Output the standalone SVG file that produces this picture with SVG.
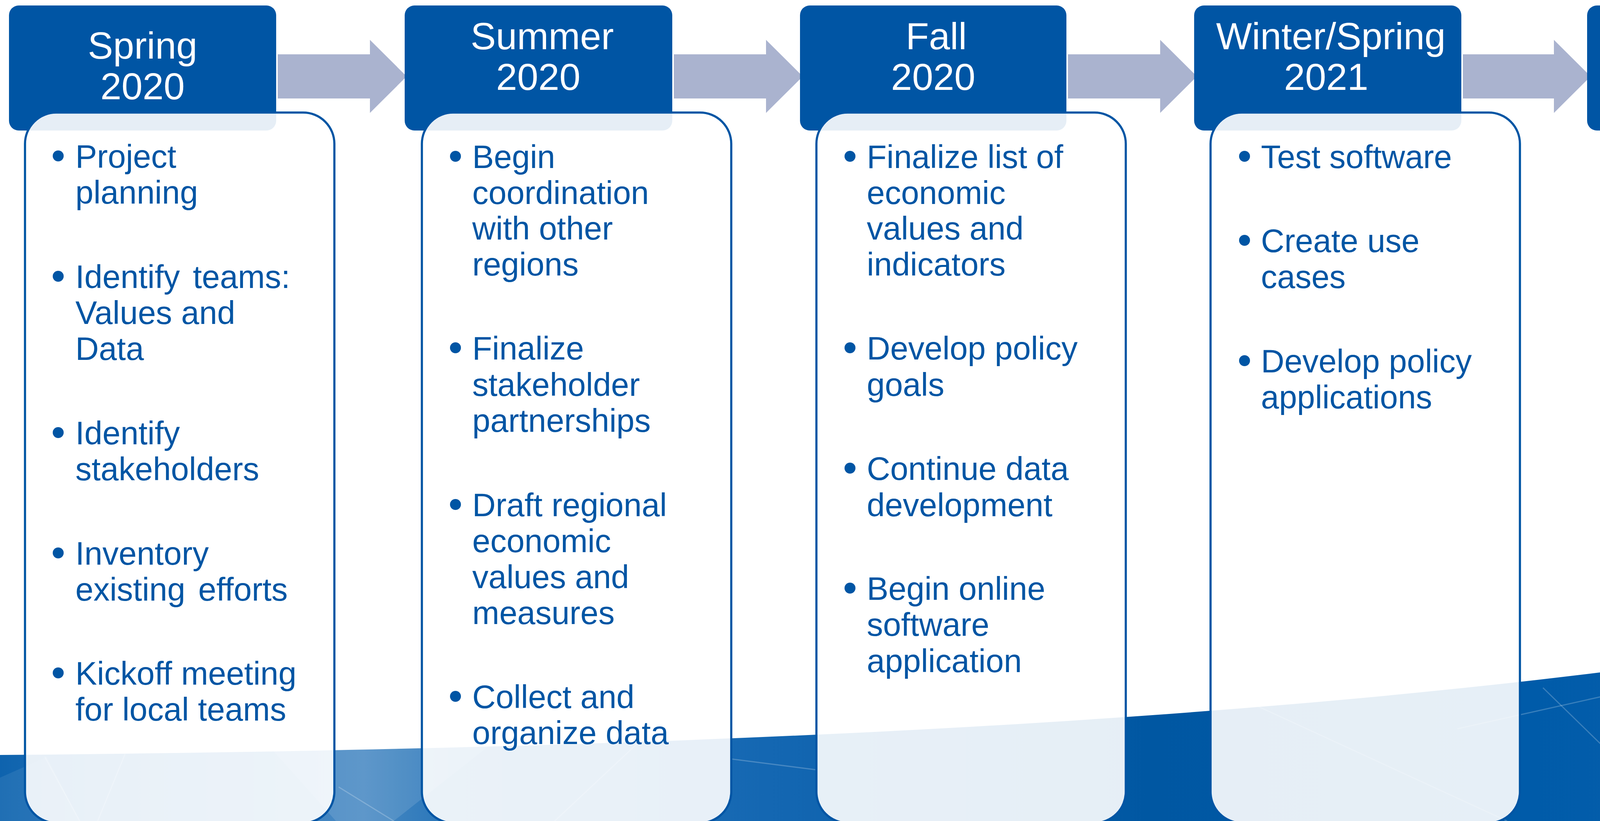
<svg xmlns="http://www.w3.org/2000/svg" width="4904" height="2101" viewBox="0 0 4904 2101">
<defs>
<linearGradient id="sea" x1="0" y1="0" x2="4904" y2="0" gradientUnits="userSpaceOnUse">
<stop offset="0" stop-color="#0E63AE"/>
<stop offset="0.08" stop-color="#2A77BB"/>
<stop offset="0.19" stop-color="#4889C3"/>
<stop offset="0.23" stop-color="#2C78BA"/>
<stop offset="0.4" stop-color="#1467B2"/>
<stop offset="0.6" stop-color="#0057A2"/>
<stop offset="0.8" stop-color="#005BA9"/>
<stop offset="1" stop-color="#0F64AF"/>
</linearGradient>
<style>
.hdr{fill:#0055A4}
.card{fill:#FFFFFF;fill-opacity:0.9;stroke:#0055A4;stroke-width:5.5}
.ht{font-family:"Liberation Sans",Arial,Helvetica,sans-serif;font-size:97px;fill:#FFFFFF;text-anchor:middle}
.bt{font-family:"Liberation Sans",Arial,Helvetica,sans-serif;font-size:83px;fill:#0055A4}
.bul{fill:#0055A4}
.arr{fill:#AAB3CF}
.facet{stroke:#FFFFFF;stroke-opacity:0.22;stroke-width:3;fill:none}
.logo{fill:#FFFFFF}
</style>
</defs>

<g id="background">
<rect x="0" y="0" width="4904" height="2101" fill="#FFFFFF"/>
<path d="M0,1932 C2000,1915 3600,1830 4904,1602 L4904,2101 L0,2101 Z" fill="url(#sea)"/>
<path d="M0,1990 L120,1937 L204,2101 L0,2101 Z" fill="#FFFFFF" fill-opacity="0.08"/>
<path d="M700,1922 L1250,1910 L1008,2101 L860,2101 Z" fill="#FFFFFF" fill-opacity="0.12"/>
<line class="facet" x1="115" y1="1937" x2="204" y2="2101"/>
<line class="facet" x1="320" y1="1930" x2="250" y2="2101"/>
<line class="facet" x1="867" y1="2014" x2="1008" y2="2101"/>
<line class="facet" x1="1640" y1="1895" x2="1420" y2="2101"/>
<line class="facet" x1="1870" y1="1942" x2="2090" y2="1970"/>
<line class="facet" x1="3219" y1="1807" x2="3858" y2="2101"/>
<line class="facet" x1="3731" y1="1865" x2="4904" y2="1603"/>
<line class="facet" x1="3950" y1="1760" x2="4300" y2="2101"/>
<path class="logo" d="M4463,1826 L4692,2101 L4672,2101 Z"/>
<path class="logo" d="M4616,1848 C4626,1858 4520,1960 4365,2101 L4398,2101 C4490,1990 4590,1905 4628,1880 C4632,1866 4626,1850 4616,1848 Z"/>
<path class="logo" d="M4598,1905 L4608,1910 L4582,2030 L4576,2026 Z"/>
<path class="logo" d="M4432,2050 Q4500,2112 4690,2082 Q4520,2094 4442,2040 Z"/>
</g>

<g id="connectors">
<path class="arr" d="M711,139 H947 V102 L1041,195.5 L947,289 V252 H711 Z"/>
<path class="arr" d="M1725,139 H1961 V102 L2055,195.5 L1961,289 V252 H1725 Z"/>
<path class="arr" d="M2734,139 H2970 V102 L3064,195.5 L2970,289 V252 H2734 Z"/>
<path class="arr" d="M3745,139 H3978 V102 L4072,195.5 L3978,289 V252 H3745 Z"/>
</g>

<g id="node-spring-2020">
<rect class="hdr" x="23" y="14" width="684" height="320" rx="25"/>
<text class="ht" x="365" y="150">Spring</text>
<text class="ht" x="365" y="254">2020</text>
<rect class="card" x="64" y="288" width="792" height="1818" rx="80"/>
<circle class="bul" cx="149" cy="399" r="14"/>
<text class="bt" x="193" y="429">Project</text>
<text class="bt" x="193" y="521">planning</text>
<circle class="bul" cx="149" cy="707" r="14"/>
<text class="bt" x="193" y="737" word-spacing="10">Identify teams:</text>
<text class="bt" x="193" y="829">Values and</text>
<text class="bt" x="193" y="921">Data</text>
<circle class="bul" cx="149" cy="1107" r="14"/>
<text class="bt" x="193" y="1137">Identify</text>
<text class="bt" x="193" y="1229">stakeholders</text>
<circle class="bul" cx="149" cy="1415" r="14"/>
<text class="bt" x="193" y="1445">Inventory</text>
<text class="bt" x="193" y="1537" word-spacing="10">existing efforts</text>
<circle class="bul" cx="149" cy="1722" r="14"/>
<text class="bt" x="193" y="1752">Kickoff meeting</text>
<text class="bt" x="193" y="1844">for local teams</text>
</g>

<g id="node-summer-2020">
<rect class="hdr" x="1036" y="14" width="685" height="320" rx="25"/>
<text class="ht" x="1388" y="126">Summer</text>
<text class="ht" x="1378" y="230">2020</text>
<rect class="card" x="1080" y="288" width="792" height="1818" rx="80"/>
<circle class="bul" cx="1166" cy="400" r="14"/>
<text class="bt" x="1209" y="430">Begin</text>
<text class="bt" x="1209" y="522">coordination</text>
<text class="bt" x="1209" y="613">with other</text>
<text class="bt" x="1209" y="705">regions</text>
<circle class="bul" cx="1166" cy="890" r="14"/>
<text class="bt" x="1209" y="920">Finalize</text>
<text class="bt" x="1209" y="1013">stakeholder</text>
<text class="bt" x="1209" y="1105">partnerships</text>
<circle class="bul" cx="1166" cy="1291" r="14"/>
<text class="bt" x="1209" y="1321">Draft regional</text>
<text class="bt" x="1209" y="1413">economic</text>
<text class="bt" x="1209" y="1505">values and</text>
<text class="bt" x="1209" y="1597">measures</text>
<circle class="bul" cx="1166" cy="1782" r="14"/>
<text class="bt" x="1209" y="1812">Collect and</text>
<text class="bt" x="1209" y="1904">organize data</text>
</g>

<g id="node-fall-2020">
<rect class="hdr" x="2048" y="14" width="682" height="320" rx="25"/>
<text class="ht" x="2397" y="126">Fall</text>
<text class="ht" x="2389" y="230">2020</text>
<rect class="card" x="2090" y="288" width="792" height="1818" rx="80"/>
<circle class="bul" cx="2176" cy="400" r="14"/>
<text class="bt" x="2219" y="430">Finalize list of</text>
<text class="bt" x="2219" y="522">economic</text>
<text class="bt" x="2219" y="613">values and</text>
<text class="bt" x="2219" y="705">indicators</text>
<circle class="bul" cx="2176" cy="890" r="14"/>
<text class="bt" x="2219" y="920">Develop policy</text>
<text class="bt" x="2219" y="1013">goals</text>
<circle class="bul" cx="2176" cy="1198" r="14"/>
<text class="bt" x="2219" y="1228">Continue data</text>
<text class="bt" x="2219" y="1321">development</text>
<circle class="bul" cx="2176" cy="1505" r="14"/>
<text class="bt" x="2219" y="1535">Begin online</text>
<text class="bt" x="2219" y="1627">software</text>
<text class="bt" x="2219" y="1720">application</text>
</g>

<g id="node-winter-spring-2021">
<rect class="hdr" x="3057" y="14" width="684" height="320" rx="25"/>
<text class="ht" x="3407" y="126">Winter/Spring</text>
<text class="ht" x="3395" y="230">2021</text>
<rect class="card" x="3099" y="288" width="792" height="1818" rx="80"/>
<circle class="bul" cx="3186" cy="400" r="14"/>
<text class="bt" x="3228" y="430">Test software</text>
<circle class="bul" cx="3186" cy="615" r="14"/>
<text class="bt" x="3228" y="645">Create use</text>
<text class="bt" x="3228" y="737">cases</text>
<circle class="bul" cx="3186" cy="923" r="14"/>
<text class="bt" x="3228" y="953">Develop policy</text>
<text class="bt" x="3228" y="1045">applications</text>
</g>

<g id="node-summer-fall-2021">
<rect class="hdr" x="4063" y="14" width="684" height="320" rx="25"/>
<text class="ht" x="4405" y="126">Summer/Fall</text>
<text class="ht" x="4400" y="230">2021</text>
<rect class="card" x="4108" y="288" width="792" height="1818" rx="80"/>
<circle class="bul" cx="4195" cy="399" r="14"/>
<text class="bt" x="4237" y="429">Policy</text>
<text class="bt" x="4237" y="521">explorations</text>
<circle class="bul" cx="4195" cy="707" r="14"/>
<text class="bt" x="4237" y="737">Policy</text>
<text class="bt" x="4237" y="829">implementation</text>
<circle class="bul" cx="4195" cy="1014" r="14"/>
<text class="bt" x="4237" y="1044">Present</text>
<text class="bt" x="4237" y="1136">findings to</text>
<text class="bt" x="4237" y="1228">regional</text>
<text class="bt" x="4237" y="1319">stakeholders</text>
<text class="bt" x="4237" y="1411">and national</text>
<text class="bt" x="4237" y="1503">cohort.</text>
</g>
</svg>
